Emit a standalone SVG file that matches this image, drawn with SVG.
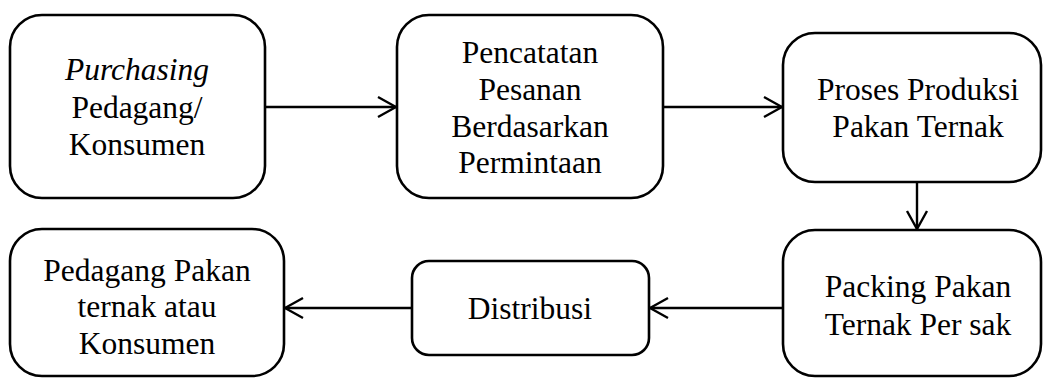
<svg xmlns="http://www.w3.org/2000/svg" width="1044" height="378" viewBox="0 0 1044 378">
<defs>
<style>
.box{fill:#fff;stroke:#000;stroke-width:2.6}
.t{font-family:"Liberation Serif","Times New Roman",serif;font-size:31.5px;fill:#000;text-anchor:middle}
.c{stroke:#000;stroke-width:2.4;fill:none}
</style>
<marker id="ah" viewBox="0 0 20 24" refX="19" refY="12" markerWidth="20" markerHeight="24" markerUnits="userSpaceOnUse" orient="auto">
<path d="M1,2 L19,12 L1,22" fill="none" stroke="#000" stroke-width="2.4"/>
</marker>
</defs>
<rect width="1044" height="378" fill="#fff"/>
<g id="connectors">
<line class="c" x1="265" y1="107" x2="396" y2="107" marker-end="url(#ah)"/>
<line class="c" x1="663" y1="107" x2="782" y2="107" marker-end="url(#ah)"/>
<line class="c" x1="917" y1="182" x2="917" y2="229" marker-end="url(#ah)"/>
<line class="c" x1="783" y1="308" x2="650" y2="308" marker-end="url(#ah)"/>
<line class="c" x1="412" y1="308" x2="285" y2="308" marker-end="url(#ah)"/>
</g>
<g id="n1">
<rect class="box" x="10" y="15" width="255" height="183" rx="32"/>
<text class="t" x="137" y="80"><tspan font-style="italic">Purchasing</tspan></text>
<text class="t" x="137" y="118">Pedagang/</text>
<text class="t" x="137" y="155">Konsumen</text>
</g>
<g id="n2">
<rect class="box" x="397" y="15" width="266" height="183" rx="32"/>
<text class="t" x="530" y="63">Pencatatan</text>
<text class="t" x="530" y="100">Pesanan</text>
<text class="t" x="530" y="137">Berdasarkan</text>
<text class="t" x="530" y="173">Permintaan</text>
</g>
<g id="n3">
<rect class="box" x="783" y="33" width="258" height="149" rx="32"/>
<text class="t" x="918" y="100">Proses Produksi</text>
<text class="t" x="918" y="137">Pakan Ternak</text>
</g>
<g id="n4">
<rect class="box" x="783" y="230" width="258" height="146" rx="32"/>
<text class="t" x="918" y="297">Packing Pakan</text>
<text class="t" x="918" y="335">Ternak Per sak</text>
</g>
<g id="n5">
<rect class="box" x="412" y="261" width="237" height="94" rx="17"/>
<text class="t" x="530" y="319">Distribusi</text>
</g>
<g id="n6">
<rect class="box" x="10" y="229" width="274" height="147" rx="32"/>
<text class="t" x="147" y="281">Pedagang Pakan</text>
<text class="t" x="147" y="317">ternak atau</text>
<text class="t" x="147" y="354">Konsumen</text>
</g>
</svg>
